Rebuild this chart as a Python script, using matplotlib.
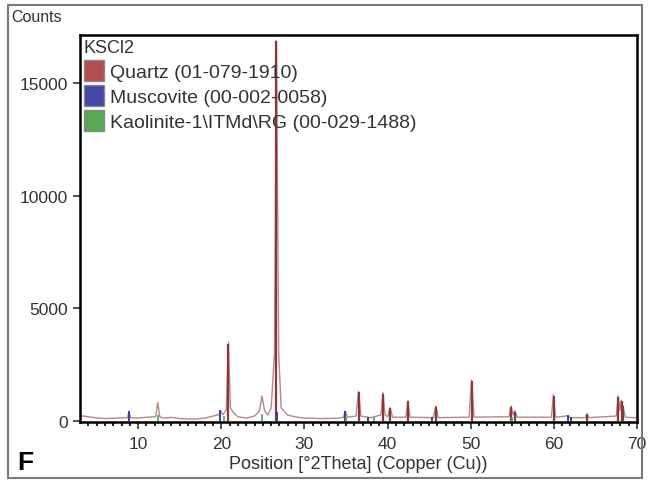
# coding=utf-8
import numpy as np
import matplotlib.pyplot as plt
from matplotlib.patches import Rectangle, Patch

scan_pos = [3.0, 4.0, 5.0, 6.0, 7.0, 8.0, 8.7, 8.9, 9.1, 10.0, 11.0, 12.1, 12.35, 12.6,
            13.0, 14.0, 15.0, 16.0, 17.0, 18.0, 19.0, 19.7, 19.9, 20.2, 20.6, 20.86,
            21.1, 21.5, 22.0, 23.0, 24.0, 24.6, 24.9, 25.2, 25.6, 26.0, 26.4, 26.64,
            26.9, 27.2, 28.0, 29.0, 30.0, 32.0, 34.0, 34.7, 34.9, 35.2, 36.2, 36.5,
            36.8, 38.0, 39.2, 39.45, 39.7, 40.0, 40.3, 40.6, 42.2, 42.45, 42.7, 45.5,
            45.8, 46.1, 49.8, 50.1, 50.4, 54.6, 54.85, 55.1, 55.3, 55.6, 59.7, 59.95,
            60.2, 61.7, 62.0, 63.8, 64.0, 64.2, 67.5, 67.75, 67.95, 68.1, 68.3, 68.6,
            69.5, 70.0]
scan_cts = [220, 170, 120, 90, 100, 120, 130, 380, 130, 110, 150, 170, 800, 170,
            110, 140, 90, 70, 70, 110, 200, 260, 430, 260, 480, 3500,
            560, 340, 170, 110, 200, 440, 1100, 440, 250, 560, 3000, 16900,
            3000, 560, 240, 160, 110, 90, 100, 150, 430, 150, 200, 1300,
            200, 130, 250, 1250, 250, 170, 580, 150, 150, 880, 150, 130,
            650, 130, 150, 1800, 150, 170, 650, 250, 450, 150, 150, 1150,
            150, 210, 130, 130, 300, 130, 200, 1100, 450, 900, 650, 150,
            130, 130]

# reference sticks
quartz_pos = [20.86, 26.64, 36.54, 39.46, 40.29, 42.45, 45.79, 50.14, 54.87, 55.33,
              59.96, 64.04, 67.74, 68.14, 68.31]
quartz_cts = [3400, 16900, 1250, 1200, 550, 850, 620, 1750, 620, 400,
              1100, 280, 1050, 850, 650]
musc_pos = [8.85, 19.85, 26.75, 34.85, 37.6, 45.4, 61.7, 62.1]
musc_cts = [420, 480, 380, 420, 150, 160, 230, 150]
kaol_pos = [12.36, 20.3, 24.9, 35.0, 38.4, 55.0]
kaol_cts = [260, 200, 300, 180, 150, 150]

legend_title = 'KSCl2'
phase_labels = ['Quartz (01-079-1910)', 'Muscovite (00-002-0058)',
                'Kaolinite-1\\ITMd\\RG (00-029-1488)']
phase_colors = ['#b24e4e', '#4646a6', '#55a955']

plt.rcParams['font.family'] = ['Liberation Sans', 'DejaVu Sans']
fig = plt.figure(figsize=(6.5, 4.85), dpi=100)
fig.patches.append(Rectangle((0.012, 0.012), 0.976, 0.976, transform=fig.transFigure,
                             fill=False, edgecolor='#7a7a7a', linewidth=1.5))
ax = fig.add_axes([0.123, 0.128, 0.857, 0.798])

ax.plot(scan_pos, scan_cts, color='#b48888', linewidth=1.0, zorder=2)
ax.vlines(quartz_pos, 0, quartz_cts, color='#8e3636', linewidth=1.6, zorder=3)
ax.vlines(musc_pos, 0, musc_cts, color='#3a3a9a', linewidth=1.4, zorder=4)
ax.vlines(kaol_pos, 0, kaol_cts, color='#4aa84a', linewidth=1.2, zorder=4)

ax.set_xlim(3, 70)
ax.set_ylim(-60, 17150)
ax.set_xticks([10, 20, 30, 40, 50, 60, 70])
ax.set_xticks(np.arange(4, 70, 1), minor=True)
ax.set_yticks([0, 5000, 10000, 15000])
ax.tick_params(axis='both', which='major', direction='out', length=5, width=1.2,
               labelsize=12.5, colors='#333333')
ax.tick_params(axis='x', which='major', pad=5)
ax.tick_params(axis='x', which='minor', direction='out', length=3, width=1.2)
for s in ax.spines.values():
    s.set_linewidth(1.8)
    s.set_color('black')

ax.set_xlabel('Position [°2Theta] (Copper (Cu))', fontsize=13, color='#333333',
              labelpad=3)
fig.text(0.018, 0.955, 'Counts', fontsize=11.5, color='#333333')
fig.text(0.026, 0.03, 'F', fontsize=19, fontweight='bold')

handles = [Patch(facecolor=c, edgecolor='#888888') for c in phase_colors]
leg = ax.legend(handles, phase_labels, title=legend_title, loc='upper left',
                frameon=False, fontsize=14, title_fontsize=13, handlelength=1.05,
                handleheight=1.3, handletextpad=0.3, labelspacing=0.2,
                borderaxespad=0.1, borderpad=0.1)
leg._legend_box.align = 'left'
for t in leg.get_texts():
    t.set_color('#333333')
leg.get_title().set_color('#333333')

fig.savefig('out.png', dpi=100)
